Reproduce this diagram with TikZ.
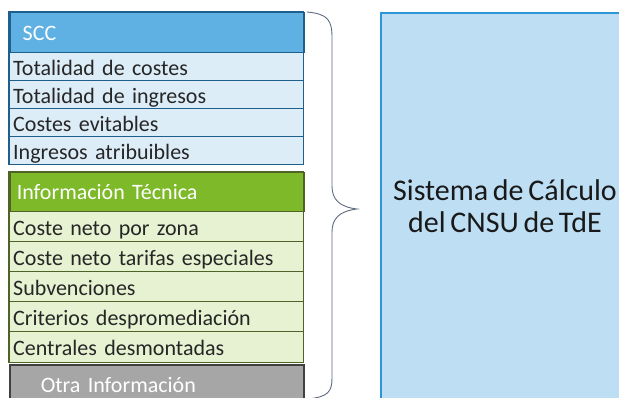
\documentclass[tikz,border=0pt]{standalone}
\usepackage{fontspec}
\setmainfont[WordSpace=0.7]{Carlito}
\usetikzlibrary{positioning}
\definecolor{sccdark}{HTML}{1F5F8B}
\definecolor{scchead}{HTML}{5FB0E3}
\definecolor{scclight}{HTML}{DDEDF8}
\definecolor{tecdark}{HTML}{4F6228}
\definecolor{techead}{HTML}{7DB928}
\definecolor{teclight}{HTML}{E6F2D1}
\definecolor{otrdark}{HTML}{404040}
\definecolor{otrhead}{HTML}{A6A6A6}
\definecolor{sysline}{HTML}{2E95D8}
\definecolor{sysfill}{HTML}{BEDFF3}
\definecolor{bracecol}{HTML}{5D6B80}
\tikzset{
  cell/.style={anchor=north west,minimum width=294pt,text width=286pt,
    inner sep=3pt,align=left,font=\fontsize{22}{24}\selectfont,text=black!85,
    text height=18pt,text depth=0pt},
  head/.style={cell,text=white,text height=16pt},
}

\begin{document}
\begin{tikzpicture}[x=1pt,y=-1pt]
\useasboundingbox (0,0) rectangle (619,398);
\clip (0,0) rectangle (619,398);
% SCC
\node[head,fill=scchead,draw=sccdark,line width=1.5pt,minimum height=40pt,
  text width=268pt] (scc) at (9,12) {SCC};
\node[cell,fill=scclight,draw=sccdark,minimum height=28pt] (scc1) at (9,52) {Totalidad de costes};
\node[cell,fill=scclight,draw=sccdark,minimum height=28pt] (scc2) at (9,80) {Totalidad de ingresos};
\node[cell,fill=scclight,draw=sccdark,minimum height=28pt] (scc3) at (9,108) {Costes evitables};
\node[cell,fill=scclight,draw=sccdark,minimum height=28pt] (scc4) at (9,136) {Ingresos atribuibles};
\draw[sccdark,line width=1.5pt] (scc.north west) rectangle (scc4.south east);
% Informacion tecnica
\node[head,fill=techead,draw=tecdark,line width=1.5pt,minimum height=39pt,
  text width=280pt,text height=15pt] (tec) at (9,172) {Información Técnica};
\node[cell,fill=teclight,draw=tecdark,minimum height=30pt] (tec1) at (9,211) {Coste neto por zona};
\node[cell,fill=teclight,draw=tecdark,minimum height=30pt] (tec2) at (9,241) {Coste neto tarifas especiales};
\node[cell,fill=teclight,draw=tecdark,minimum height=30pt] (tec3) at (9,271) {Subvenciones};
\node[cell,fill=teclight,draw=tecdark,minimum height=30pt] (tec4) at (9,301) {Criterios despromediación};
\node[cell,fill=teclight,draw=tecdark,minimum height=31pt] (tec5) at (9,331) {Centrales desmontadas};
\draw[tecdark,line width=1.5pt] (tec.north west) rectangle (tec5.south east);
% Otra informacion
\node[head,fill=otrhead,draw=otrdark,line width=1.5pt,minimum height=40pt,
  text width=232pt] (otr) at (9,364) {Otra Información};
% llave
\draw[bracecol,line width=0.9pt] (307,12) .. controls (328,14) and (332,20) .. (332,38)
  -- (332,186) .. controls (332,200) and (340,207) .. (357,209)
  .. controls (340,211) and (332,218) .. (332,232) -- (332,378)
  .. controls (332,392) and (328,397) .. (307,399);
% sistema
\node[draw=sysline,fill=sysfill,line width=2pt,anchor=north west,minimum width=250pt,
  minimum height=400pt] (sis) at (380,12) {};
\node[align=center,font=\fontsize{30}{32}\selectfont,text=black!90] (sistxt) at (505,206)
  {Sistema de Cálculo\\del CNSU de TdE};
\end{tikzpicture}
\end{document}
